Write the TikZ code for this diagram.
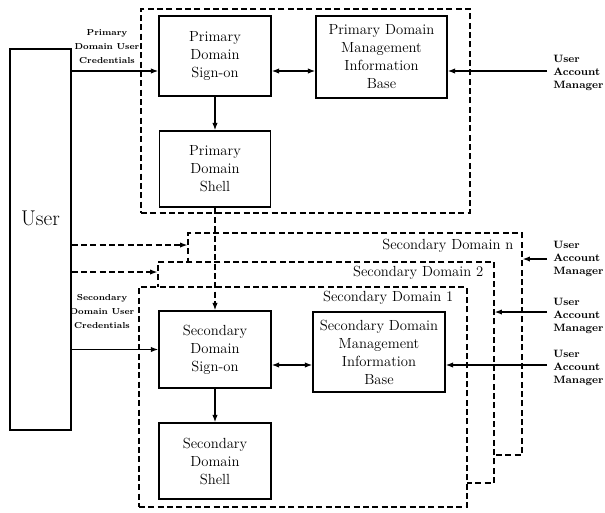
\documentclass[tikz,border=0pt]{standalone}
\usetikzlibrary{positioning,arrows.meta}

\begin{document}
\begin{tikzpicture}[x=0.75pt, y=-0.75pt, >={Latex[length=5.5pt,width=4pt]},
  block/.style={rectangle, draw, line width=1.1pt, align=center, fill=white, inner sep=0pt, font=\fontsize{11}{13.5}\selectfont},
  domainbox/.style={rectangle, draw, line width=0.9pt, dash pattern=on 4.5pt off 2.5pt, inner sep=0pt},
  dashline/.style={line width=0.9pt, dash pattern=on 4.5pt off 2.5pt},
  solidline/.style={line width=0.9pt},
  cred/.style={align=center, font=\fontsize{6.5}{10.5}\selectfont\bfseries},
  uam/.style={anchor=west, align=left, inner sep=1.5pt, font=\fontsize{8}{10}\selectfont\bfseries},
  dlabel/.style={anchor=east, inner sep=0pt, font=\fontsize{11}{13}\selectfont}]
  \useasboundingbox (0,0) rectangle (605,512);

  % Domains
  \node[domainbox, minimum width=246.75pt, minimum height=153pt] (prim) at (305.5,111) {};
  \node[domainbox, fill=white, minimum width=250.5pt, minimum height=166.5pt] (domn) at (355,344) {};
  \node[domainbox, fill=white, minimum width=252pt, minimum height=165.75pt] (dom2) at (326,372.5) {};
  \node[domainbox, fill=white, minimum width=246pt, minimum height=165pt] (dom1) at (303,397) {};
  \node[dlabel] at ([shift={(-9,13)}]domn.north east) {Secondary Domain n};
  \node[dlabel] at ([shift={(-11,11)}]dom2.north east) {Secondary Domain 2};
  \node[dlabel] at ([shift={(-14,11)}]dom1.north east) {Secondary Domain 1};

  % Nodes
  \node[block, minimum width=45.75pt, minimum height=285.75pt] (user) at (40.5,239.5) {};
  \node[font=\fontsize{16}{19}\selectfont] (usertext) at ([yshift=16pt]user.center) {User};
  \node[block, minimum width=84pt, minimum height=60pt] (psign) at (215,56) {Primary\\Domain\\Sign-on};
  \node[block, minimum width=83.25pt, minimum height=57pt] (pshell) at (215,169) {Primary\\Domain\\Shell};
  \node[block, minimum width=98.25pt, minimum height=61.5pt] (pmib) at (381.5,57) {Primary Domain\\Management\\Information\\Base};
  \node[block, minimum width=84pt, minimum height=57.75pt] (ssign) at (215,349.5) {Secondary\\Domain\\Sign-on};
  \node[block, minimum width=84pt, minimum height=57pt] (sshell) at (215,461) {Secondary\\Domain\\Shell};
  \node[block, minimum width=99pt, minimum height=60pt] (smib) at (379,352) {Secondary Domain\\Management\\Information\\Base};

  \node[cred] (pcred) at (107,47) {Primary\\Domain User\\Credentials};
  \node[cred] (scred) at (102,312) {Secondary\\Domain User\\Credentials};

  \coordinate (uamP) at (547,71);
  \coordinate (uamN) at (547,259);
  \coordinate (uam2) at (547,312);
  \coordinate (uam1) at (547,365);
  \coordinate (tn) at (120,245);
  \coordinate (t2) at (120,272);

  % Arrows
  \draw[solidline, ->] (user.east |- uamP) -- (psign.west |- uamP);
  \draw[solidline, <->] (psign.east |- uamP) -- (pmib.west |- uamP);
  \draw[solidline, ->] (uamP) -- (pmib.east |- uamP);
  \draw[solidline, ->] (psign) -- (pshell);
  \draw[dashline, ->] (pshell) -- (ssign);
  \draw[dashline, ->] (user.east |- tn) -- (domn.west |- tn);
  \draw[dashline, ->] (user.east |- t2) -- (dom2.west |- t2);
  \draw[solidline, ->] (user.east |- ssign.west) -- (ssign.west);
  \draw[solidline, <->] (ssign.east |- uam1) -- (smib.west |- uam1);
  \draw[solidline, ->] (ssign) -- (sshell);
  \draw[solidline, ->] (uam1) -- (smib.east |- uam1);
  \draw[solidline, ->] (uam2) -- (dom2.east |- uam2);
  \draw[solidline, ->] (uamN) -- (domn.east |- uamN);

  \node[uam] at ([shift={(4,2)}]uamP) {User\\Account\\Manager};
  \node[uam] at ([shift={(4,0)}]uamN) {User\\Account\\Manager};
  \node[uam] at ([shift={(4,4)}]uam2) {User\\Account\\Manager};
  \node[uam] at ([shift={(4,3)}]uam1) {User\\Account\\Manager};
\end{tikzpicture}
\end{document}
